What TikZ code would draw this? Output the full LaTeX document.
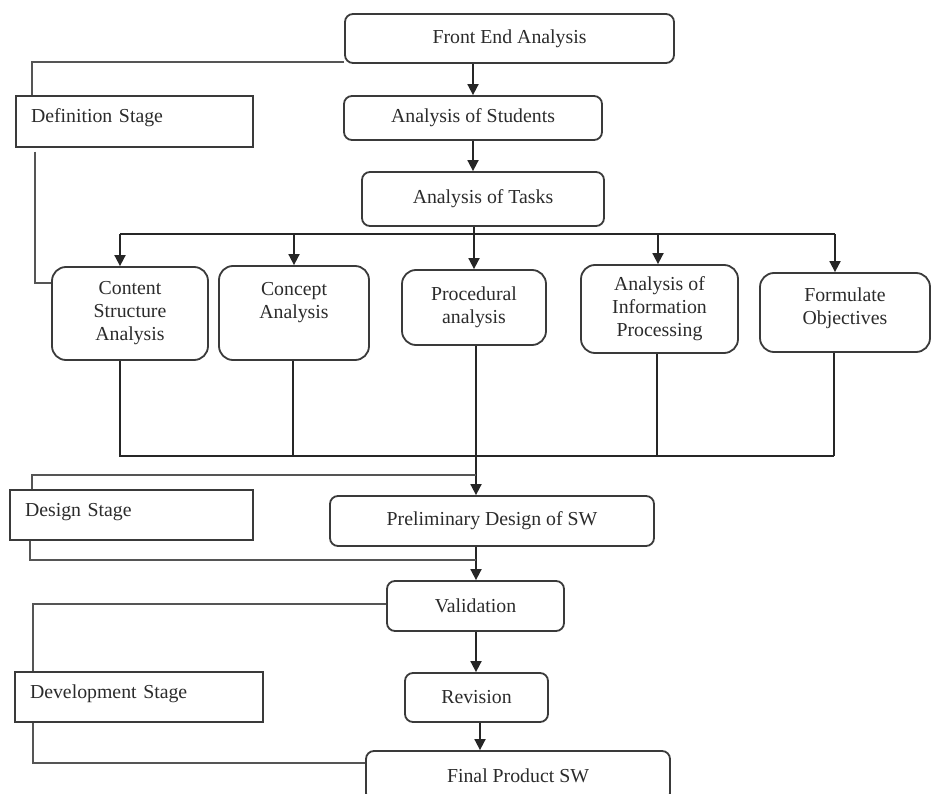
\documentclass[tikz,border=0pt]{standalone}
\usepackage{fontspec}
\setmainfont{Liberation Serif}
\usetikzlibrary{arrows.meta}
\definecolor{boxc}{HTML}{3A3A3A}
\definecolor{linec}{HTML}{555555}
\definecolor{txt}{HTML}{2B2B2B}
\begin{document}
\begin{tikzpicture}[x=1pt,y=-1pt,
  procbox/.style={draw=boxc, line width=1.8pt, rounded corners=8pt, inner sep=0pt,
    align=center, text=txt, font=\fontsize{19.8}{23}\selectfont},
  bigbox/.style={procbox, rounded corners=14pt},
  stagebox/.style={draw=boxc, line width=1.5pt, inner xsep=15pt, inner ysep=0pt,
    align=left, text=txt, font=\fontsize{19.8}{23}\selectfont,
    text height=14pt, text depth=11pt},
  link/.style={draw=linec, line width=1.4pt},
  bus/.style={draw=black!85, line width=1.8pt},
  arr/.style={draw=black!85, line width=1.8pt, -{Triangle[length=11pt,width=11pt]}},
]
\path[use as bounding box] (0,0) rectangle (931,794);
\clip (0,0) rectangle (931,794);

% process boxes
\node[procbox, minimum width=329pt, minimum height=49pt] (fea) at (509.5,38.5) {Front End Analysis};
\node[procbox, minimum width=258pt, minimum height=44pt] (stu) at (473,118) {Analysis of Students};
\node[procbox, minimum width=242pt, minimum height=54pt] (tasks) at (483,199) {Analysis of Tasks};

\node[bigbox, minimum width=156pt, minimum height=93pt] (content) at (130,313.5) {Content\\Structure\\Analysis};
\node[bigbox, minimum width=150pt, minimum height=94pt, text depth=26pt] (concept) at (294,313) {Concept\\Analysis};
\node[bigbox, minimum width=144pt, minimum height=75pt] (proc) at (474,307.5) {Procedural\\analysis};
\node[bigbox, minimum width=157pt, minimum height=88pt] (info) at (659.5,309) {Analysis of\\Information\\Processing};
\node[bigbox, minimum width=170pt, minimum height=79pt, text depth=13pt] (form) at (845,312.5) {Formulate\\Objectives};

\node[procbox, minimum width=324pt, minimum height=50pt] (prelim) at (492,521) {Preliminary Design of SW};
\node[procbox, minimum width=177pt, minimum height=50pt] (valid) at (475.5,606) {Validation};
\node[procbox, minimum width=143pt, minimum height=49pt] (rev) at (476.5,697.5) {Revision};
\node[procbox, minimum width=304pt, minimum height=50pt] (final) at (518,776) {Final Product SW};

% stage boxes
\node[stagebox, minimum width=237pt, minimum height=51pt, text width=207pt] (def) at (134.5,121.5) {Definition Stage};
\node[stagebox, minimum width=243pt, minimum height=50pt, text width=213pt] (design) at (131.5,515) {Design Stage};
\node[stagebox, minimum width=248pt, minimum height=50pt, text width=218pt] (dev) at (139,697) {Development Stage};

% helper coordinates
\coordinate (t1) at (120,234);
\coordinate (t2) at (294,234);
\coordinate (t4) at (658,234);
\coordinate (t5) at (835,234);
\coordinate (b1) at (120,456);
\coordinate (b2) at (293,456);
\coordinate (b4) at (657,456);
\coordinate (b5) at (834,456);
\coordinate (sp) at (476,0);
\coordinate (sp2) at (480,0);
\coordinate (dl) at (32,0);
\coordinate (dl2) at (35,0);
\coordinate (ds1) at (32,0);
\coordinate (ds2) at (30,0);
\coordinate (dtop) at (476,475);
\coordinate (dbot) at (476,560);
\coordinate (vl) at (33,0);

% main flow
\draw[arr] (fea.south -| stu.north) -- (stu.north);
\draw[arr] (stu.south) -- (stu.south |- tasks.north);
\draw[arr] (tasks.south -| proc.north) -- (proc.north);

% top bus
\draw[bus] (t1) -- (t5);
\draw[arr] (t1) -- (t1 |- content.north);
\draw[arr] (t2) -- (t2 |- concept.north);
\draw[arr] (t4) -- (t4 |- info.north);
\draw[arr] (t5) -- (t5 |- form.north);

% bottom bus
\draw[bus] (content.south -| b1) -- (b1) -- (b5);
\draw[bus] (concept.south -| b2) -- (b2);
\draw[bus] (info.south -| b4) -- (b4);
\draw[bus] (form.south -| b5) -- (b5);
\draw[arr] (proc.south -| sp) -- (prelim.north -| sp);

\draw[arr] (prelim.south -| sp) -- (valid.north -| sp);
\draw[arr] (valid.south -| sp) -- (rev.north -| sp);
\draw[arr] (rev.south -| sp2) -- (final.north -| sp2);

% stage brackets
\draw[link] ([yshift=2pt]fea.south west) -| (def.north -| dl);
\draw[link] ([yshift=-4pt]def.south -| dl2) |- ([yshift=-17pt]content.north west);

\draw[link] (dtop) -| (design.north -| ds1);
\draw[link] (design.south -| ds2) |- (dbot);

\draw[link] ([yshift=2pt]valid.west) -| (dev.north -| vl);
\draw[link] (dev.south -| vl) |- ([yshift=-13pt]final.north west);
\end{tikzpicture}
\end{document}
